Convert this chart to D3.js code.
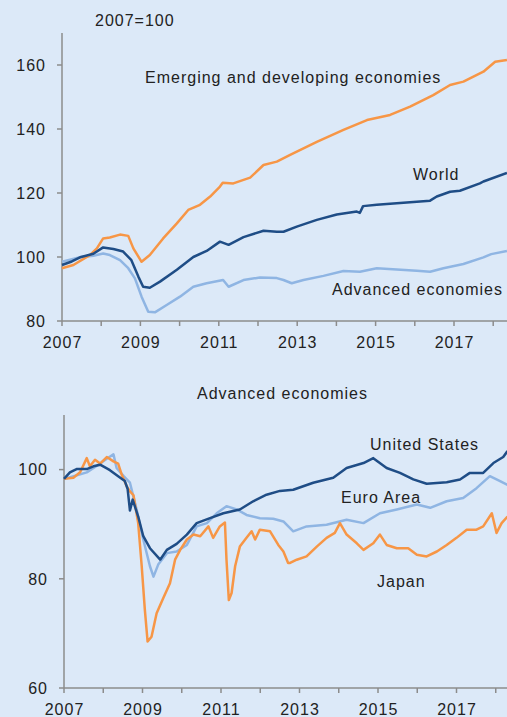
<!DOCTYPE html>
<html><head><meta charset="utf-8">
<script src="https://cdn.jsdelivr.net/npm/d3@7"></script>
<style>
html,body{margin:0;padding:0;background:#dce9f8;}
svg{display:block;}
text{font-family:Arial,"Liberation Sans",sans-serif;fill:#222;letter-spacing:1px;}
</style></head>
<body>
<svg id="c" width="507" height="717"></svg>
<script>
// ---- data (decimal year, index value) ----
const world = [[2007.0,97.5],[2007.25,98.6],[2007.46,99.9],[2007.8,101],[2008.05,103],[2008.31,102.5],[2008.56,101.7],[2008.77,99],[2008.95,93.8],[2009.07,90.7],[2009.24,90.4],[2009.5,92.3],[2009.93,96],[2010.35,100],[2010.69,101.9],[2011.03,104.8],[2011.25,103.8],[2011.63,106.2],[2012.14,108.2],[2012.48,107.9],[2012.65,107.9],[2012.99,109.5],[2013.5,111.6],[2014.01,113.3],[2014.52,114.2],[2014.6,113.8],[2014.68,115.9],[2015.03,116.3],[2015.54,116.8],[2016.05,117.3],[2016.39,117.6],[2016.56,118.9],[2016.9,120.4],[2017.15,120.7],[2017.66,123],[2017.75,123.6],[2018.35,126.3]];
const emerging = [[2007.0,96.5],[2007.29,97.5],[2007.71,100.6],[2007.89,102.7],[2008.05,105.8],[2008.22,106.1],[2008.48,107],[2008.69,106.6],[2008.82,102.7],[2009.03,98.5],[2009.24,100.6],[2009.58,105.8],[2009.93,110.5],[2010.22,114.7],[2010.52,116.3],[2010.78,118.9],[2011.03,122],[2011.1,123.2],[2011.37,123],[2011.8,124.8],[2012.14,128.75],[2012.48,129.8],[2012.82,131.9],[2013.5,136],[2014.18,139.7],[2014.78,142.8],[2015.37,144.4],[2015.88,147],[2016.47,150.6],[2016.9,153.75],[2017.24,154.8],[2017.75,157.9],[2018.05,161],[2018.35,161.6]];
const advancedAll = [[2007.0,98.5],[2007.46,99.9],[2007.8,100.4],[2008.05,101.1],[2008.22,100.6],[2008.48,99],[2008.69,96.5],[2008.86,93.3],[2009.03,87.6],[2009.2,82.9],[2009.37,82.7],[2009.67,85],[2010.01,87.6],[2010.35,90.7],[2010.69,91.8],[2011.11,92.8],[2011.25,90.7],[2011.63,92.8],[2012.05,93.6],[2012.48,93.4],[2012.65,92.8],[2012.86,91.8],[2013.16,92.8],[2013.67,94.1],[2014.18,95.6],[2014.6,95.4],[2015.03,96.5],[2015.54,96.1],[2016.05,95.7],[2016.39,95.4],[2016.73,96.5],[2017.24,97.8],[2017.75,99.9],[2017.95,100.9],[2018.35,101.9]];
const unitedStates = [[2007.0,98.3],[2007.15,99.5],[2007.32,100.1],[2007.58,100.1],[2007.75,100.6],[2007.92,100.9],[2008.17,99.9],[2008.38,98.8],[2008.55,97.9],[2008.62,96.5],[2008.68,92.5],[2008.75,94.5],[2008.89,91.4],[2009.02,87.8],[2009.19,85.6],[2009.45,83.5],[2009.62,85.3],[2009.87,86.4],[2010.13,88.1],[2010.38,90.2],[2010.72,91.1],[2011.06,92],[2011.48,92.7],[2011.82,94.2],[2012.16,95.4],[2012.5,96.1],[2012.84,96.3],[2013.35,97.6],[2013.86,98.5],[2014.2,100.3],[2014.63,101.2],[2014.88,102.1],[2015.22,100.3],[2015.56,99.4],[2015.9,98.2],[2016.24,97.4],[2016.75,97.7],[2017.09,98.2],[2017.34,99.4],[2017.68,99.4],[2017.94,101.2],[2018.19,102.3],[2018.3,103.4]];
const euroArea = [[2007.0,98.3],[2007.2,98.7],[2007.58,99.5],[2007.84,100.7],[2008.09,102],[2008.26,102.8],[2008.34,100.3],[2008.52,98.8],[2008.68,97.6],[2008.85,92.7],[2009.02,87.2],[2009.19,82.3],[2009.28,80.4],[2009.4,82.6],[2009.62,84.7],[2009.87,85],[2010.13,86.2],[2010.38,89.6],[2010.64,90.2],[2010.89,92],[2011.14,93.3],[2011.4,92.7],[2011.65,91.7],[2011.99,91.1],[2012.33,91],[2012.59,90.5],[2012.84,88.7],[2013.18,89.6],[2013.69,89.9],[2014.2,90.8],[2014.63,90.2],[2015.05,92],[2015.48,92.7],[2015.99,93.6],[2016.33,93],[2016.75,94.2],[2017.17,94.8],[2017.51,96.6],[2017.85,98.8],[2018.11,97.9],[2018.3,97.2]];
const japan = [[2007.0,98.3],[2007.24,98.5],[2007.41,99.5],[2007.58,102.1],[2007.66,100.6],[2007.79,101.8],[2007.92,101.1],[2008.09,102.3],[2008.26,101.5],[2008.38,101.1],[2008.47,99.1],[2008.6,96.9],[2008.68,96],[2008.77,95.3],[2008.89,90.2],[2008.98,82.3],[2009.06,74.3],[2009.13,68.5],[2009.23,69.4],[2009.36,73.7],[2009.53,76.5],[2009.7,79.2],[2009.83,83.5],[2009.96,85.3],[2010.13,87.2],[2010.3,88.1],[2010.47,87.8],[2010.68,89.6],[2010.8,87.5],[2010.97,89.6],[2011.1,90.3],[2011.14,83.5],[2011.2,76.1],[2011.27,77.4],[2011.36,82.3],[2011.48,85.9],[2011.65,87.5],[2011.78,88.7],[2011.87,87.2],[2011.99,89],[2012.25,88.7],[2012.46,86.2],[2012.59,85],[2012.71,82.9],[2012.76,82.9],[2012.93,83.5],[2013.18,84.1],[2013.44,85.9],[2013.69,87.5],[2013.9,88.4],[2014.03,90.2],[2014.2,88.1],[2014.46,86.5],[2014.63,85.3],[2014.88,86.5],[2015.05,88.1],[2015.22,86.2],[2015.48,85.6],[2015.77,85.6],[2015.99,84.4],[2016.24,84.1],[2016.5,85],[2016.75,86.2],[2017.0,87.5],[2017.26,89],[2017.51,89],[2017.68,89.6],[2017.9,92],[2018.02,88.4],[2018.15,90.2],[2018.3,91.4]];

const yearTicks = [2007,2008,2009,2010,2011,2012,2013,2014,2015,2016,2017,2018];
const yTicksTop = [80,100,120,140,160];
const yTicksBottom = [60,80,100];

const C_ORANGE = "#f79646", C_DARK = "#1f4d86", C_LIGHT = "#8fb5e3", C_AXIS = "#8c8c8c";

const svg = d3.select("#c");
svg.append("rect").attr("width",507).attr("height",717).attr("fill","#dce9f8");

function panel(opts){
  const g = svg.append("g");
  const x = d3.scaleLinear().domain([2007,2019]).range([opts.x0, opts.x0 + 12*opts.yearW]);
  const y = d3.scaleLinear().domain(opts.yDomain).range([opts.yBottom, opts.yTop]);
  g.append("line").attr("x1",x(2007)).attr("x2",x(2007)).attr("y1",opts.yTop).attr("y2",opts.yBottom)
    .attr("stroke",C_AXIS).attr("stroke-width",1.5);
  opts.yTicks.forEach(v=>{
    g.append("line").attr("x1",x(2007)-5).attr("x2",x(2007)).attr("y1",y(v)).attr("y2",y(v))
      .attr("stroke",C_AXIS).attr("stroke-width",1.5);
    g.append("text").attr("x",x(2007)-16).attr("y",y(v)).attr("dy","0.36em")
      .attr("text-anchor","end").attr("font-size",16).text(v);
  });
  g.append("line").attr("x1",x(2007)).attr("x2",600).attr("y1",opts.yBottom).attr("y2",opts.yBottom)
    .attr("stroke",C_AXIS).attr("stroke-width",1.5);
  yearTicks.forEach(t=>{
    g.append("line").attr("x1",x(t)).attr("x2",x(t)).attr("y1",opts.yBottom).attr("y2",opts.yBottom+5)
      .attr("stroke",C_AXIS).attr("stroke-width",1.5);
    if((t-2007)%2===0){
      g.append("text").attr("x",x(t)+0.5).attr("y",opts.yBottom+opts.labelOff)
        .attr("text-anchor","middle").attr("font-size",16).text(t);
    }
  });
  const line = d3.line().x(d=>x(d[0])).y(d=>y(d[1]));
  opts.series.forEach(s=>{
    g.append("path").datum(s.data).attr("d",line).attr("fill","none")
      .attr("stroke",s.color).attr("stroke-width",2.5).attr("stroke-linejoin","round");
  });
  opts.labels.forEach(l=>{
    g.append("text").attr("x",l.x).attr("y",l.y).attr("text-anchor",l.anchor||"start")
      .attr("font-size",16).text(l.text);
  });
}

panel({
  x0:62, yearW:39.2, yDomain:[80,170], yTop:33, yBottom:321, yTicks:yTicksTop, labelOff:27,
  series:[{data:advancedAll,color:C_LIGHT},{data:emerging,color:C_ORANGE},{data:world,color:C_DARK}],
  labels:[
    {text:"2007=100",x:95,y:26},
    {text:"Emerging and developing economies",x:145,y:83},
    {text:"World",x:413,y:180},
    {text:"Advanced economies",x:332,y:295}
  ]
});
panel({
  x0:64, yearW:39.25, yDomain:[60,110], yTop:415, yBottom:688, yTicks:yTicksBottom, labelOff:27,
  series:[{data:euroArea,color:C_LIGHT},{data:japan,color:C_ORANGE},{data:unitedStates,color:C_DARK}],
  labels:[
    {text:"Advanced economies",x:197,y:399},
    {text:"United States",x:370,y:450},
    {text:"Euro Area",x:341,y:503},
    {text:"Japan",x:377,y:587}
  ]
});
</script>
</body></html>
